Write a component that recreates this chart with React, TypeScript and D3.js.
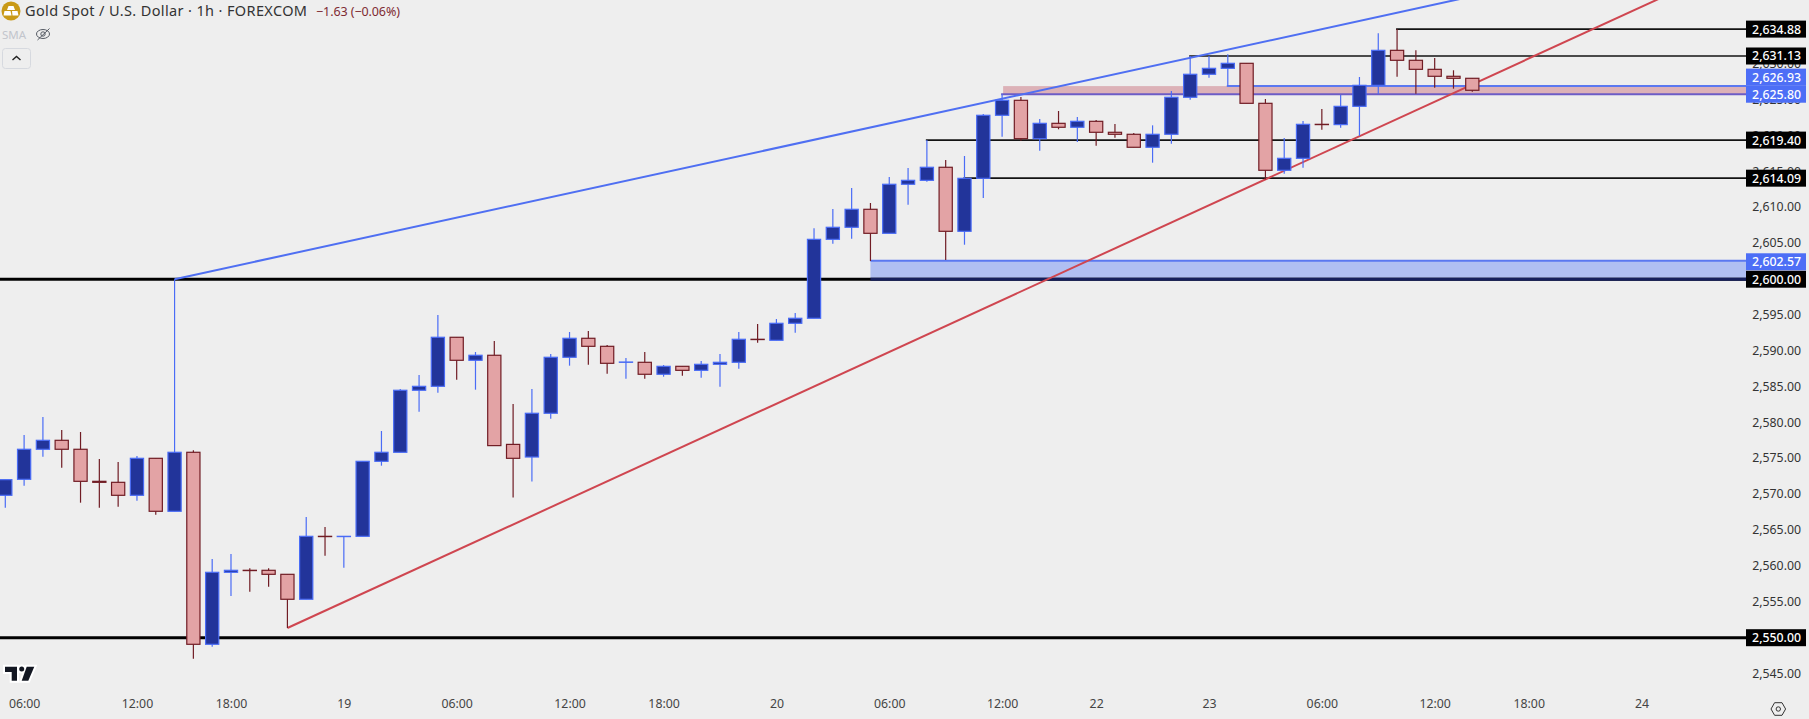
import React, { useEffect, useRef } from "react";
import * as d3 from "d3";

const WIDTH = 1809;
const HEIGHT = 719;

// hourly candles
const opens = [2569.86, 2572.09, 2576.28, 2577.53, 2576.28, 2571.81, 2571.67, 2569.86, 2575.02, 2567.63, 2575.86, 2549.08, 2559.12, 2559.40, 2559.40, 2558.84, 2555.36, 2564.14, 2564.10, 2564.14, 2574.60, 2575.86, 2584.51, 2585.06, 2591.90, 2588.69, 2589.39, 2576.96, 2575.20, 2581.30, 2589.11, 2591.76, 2590.64, 2588.41, 2588.41, 2586.74, 2587.85, 2587.29, 2588.13, 2588.41, 2591.62, 2591.48, 2593.85, 2594.55, 2605.56, 2607.24, 2609.75, 2606.40, 2613.24, 2613.79, 2615.61, 2606.68, 2614.07, 2622.86, 2624.95, 2619.60, 2621.74, 2621.19, 2622.02, 2620.49, 2620.21, 2618.40, 2620.21, 2625.37, 2628.58, 2629.41, 2630.11, 2624.53, 2615.19, 2616.86, 2621.60, 2621.56, 2624.11, 2627.04, 2631.92, 2630.53, 2629.27, 2628.30, 2628.02];
const highs = [2572.04, 2578.27, 2580.78, 2578.97, 2578.69, 2574.92, 2574.50, 2575.34, 2575.02, 2600.00, 2576.14, 2560.98, 2561.67, 2559.68, 2559.68, 2558.84, 2566.83, 2565.44, 2564.14, 2574.60, 2578.83, 2584.69, 2586.64, 2595.01, 2591.90, 2589.85, 2591.38, 2582.59, 2584.69, 2589.57, 2592.64, 2592.78, 2590.82, 2589.01, 2589.85, 2588.03, 2587.85, 2588.59, 2589.57, 2592.64, 2593.75, 2594.45, 2595.29, 2607.10, 2609.79, 2612.72, 2610.63, 2614.25, 2615.51, 2619.41, 2616.62, 2617.18, 2623.04, 2625.83, 2625.41, 2622.34, 2623.46, 2622.62, 2622.20, 2621.65, 2620.39, 2621.46, 2626.25, 2631.13, 2631.13, 2631.37, 2630.11, 2625.13, 2619.69, 2622.06, 2623.74, 2625.69, 2628.20, 2634.30, 2634.88, 2631.92, 2630.85, 2629.14, 2628.02];
const lows = [2568.13, 2571.20, 2575.24, 2573.71, 2568.83, 2568.13, 2568.27, 2569.11, 2567.15, 2567.63, 2547.07, 2548.74, 2555.82, 2556.42, 2557.11, 2551.35, 2555.36, 2561.44, 2559.76, 2564.14, 2573.99, 2575.86, 2581.52, 2584.17, 2585.98, 2584.59, 2576.79, 2569.54, 2571.79, 2580.54, 2587.94, 2588.08, 2586.82, 2586.12, 2586.12, 2586.40, 2586.54, 2586.26, 2585.01, 2587.52, 2591.14, 2591.48, 2592.54, 2594.55, 2604.95, 2605.65, 2602.54, 2606.40, 2610.39, 2613.60, 2602.68, 2604.81, 2611.32, 2619.87, 2619.32, 2617.92, 2620.91, 2619.14, 2618.62, 2619.74, 2618.40, 2616.25, 2618.90, 2625.03, 2628.10, 2626.99, 2624.53, 2613.93, 2614.71, 2615.55, 2620.85, 2621.13, 2620.01, 2625.83, 2628.24, 2625.87, 2626.71, 2626.57, 2626.15];
const closes = [2572.04, 2576.28, 2577.53, 2576.28, 2571.81, 2571.67, 2569.86, 2575.02, 2567.63, 2575.86, 2549.08, 2559.12, 2559.40, 2559.36, 2558.84, 2555.36, 2564.14, 2564.10, 2564.14, 2574.60, 2575.86, 2584.51, 2585.06, 2591.90, 2588.69, 2589.39, 2576.79, 2575.02, 2581.30, 2589.11, 2591.76, 2590.64, 2588.27, 2588.45, 2586.74, 2587.85, 2587.29, 2588.13, 2588.41, 2591.62, 2591.58, 2593.85, 2594.55, 2605.56, 2607.24, 2609.75, 2606.40, 2613.24, 2613.79, 2615.61, 2606.68, 2614.07, 2622.86, 2624.95, 2619.60, 2621.74, 2621.19, 2622.02, 2620.49, 2620.21, 2618.40, 2620.21, 2625.37, 2628.58, 2629.41, 2630.11, 2624.53, 2615.19, 2616.86, 2621.60, 2621.56, 2624.11, 2627.04, 2631.92, 2630.53, 2629.27, 2628.30, 2628.02, 2626.35];

// 2,600 and 2,550 sit fully under their own labels
const priceTicks = [2545, 2555, 2560, 2565, 2570, 2575, 2580, 2585, 2590, 2595, 2605, 2610, 2615, 2620, 2625, 2630];

const timeTickBars = [1, 7, 12, 18, 24, 30, 35, 41, 47, 53, 58, 64, 70, 76, 81, 87];
const timeTickLabels = ["06:00", "12:00", "18:00", "19", "06:00", "12:00", "18:00", "20", "06:00", "12:00", "22", "23", "06:00", "12:00", "18:00", "24"];

// price levels: start bar and price
const thinLevels = [2634.88, 2631.13, 2619.40, 2614.09];
const thinLevelStarts = [74, 63, 49, 51];
const roundLevels = [2600, 2550];

const supportZone = [2602.57, 2600];
const supportZoneStart = 46;
const resistanceZone = [2626.93, 2625.8];
const resistanceZoneStart = 53;
const resistanceTopStart = 65;

// trend lines: [bar, price]
const blueTrend: [number, number][] = [[9, 2600], [80, 2640.6]];
const redTrend: [number, number][] = [[15, 2551.35], [88, 2639.2]];

const titleText = "Gold Spot / U.S. Dollar · 1h · FOREXCOM";
const changeText = "−1.63 (−0.06%)";
const indicatorText = "SMA";

const FONT = "'Noto Sans', sans-serif";
const UP_FILL = "#22349a";
const UP_LINE = "#4a6cf6";
const DOWN_FILL = "#e3a3a5";
const DOWN_LINE = "#701c24";
const AXIS_X = 1746;

export default function App() {
  const ref = useRef<SVGSVGElement>(null);

  useEffect(() => {
    const svg = d3.select(ref.current);
    svg.selectAll("*").remove();

    const x = d3.scaleLinear().domain([0, 78]).range([5.3, 1472.3]);
    const y = d3.scaleLinear().domain([2545, 2640]).range([673.55, -7.6]);

    svg.append("rect").attr("width", WIDTH).attr("height", HEIGHT).attr("fill", "#eeeeee");

    // zones
    svg.append("rect")
      .attr("x", x(supportZoneStart))
      .attr("y", y(supportZone[0]))
      .attr("width", AXIS_X - x(supportZoneStart))
      .attr("height", y(supportZone[1]) - y(supportZone[0]))
      .attr("fill", "#b0bff2");
    svg.append("rect")
      .attr("x", x(resistanceZoneStart) + 1)
      .attr("y", y(resistanceZone[0]))
      .attr("width", AXIS_X - x(resistanceZoneStart) - 1)
      .attr("height", y(resistanceZone[1]) - y(resistanceZone[0]))
      .attr("fill", "#dcb1b7");

    const hLine = (price: number, start: number, color: string, width: number) =>
      svg.append("line")
        .attr("x1", start)
        .attr("x2", AXIS_X)
        .attr("y1", y(price))
        .attr("y2", y(price))
        .attr("stroke", color)
        .attr("stroke-width", width);

    thinLevels.forEach((p, i) => hLine(p, x(thinLevelStarts[i]) - 1, "#131313", 1.6));
    roundLevels.forEach((p) => hLine(p, 0, "#000000", 3));
    hLine(supportZone[0], x(supportZoneStart), "#5b78f0", 2);
    hLine(supportZone[1], x(supportZoneStart), "#161f5c", 3);
    hLine(resistanceZone[0], x(resistanceTopStart) - 1, "#5b78f0", 2);
    hLine(resistanceZone[1], x(resistanceZoneStart) - 1, "#6c5cc6", 2);

    // trend lines
    const trend = d3.line<[number, number]>().x((d) => x(d[0])).y((d) => y(d[1]));
    svg.append("path").attr("d", trend(blueTrend)).attr("fill", "none").attr("stroke", "#4f6ff2").attr("stroke-width", 2);
    svg.append("path").attr("d", trend(redTrend)).attr("fill", "none").attr("stroke", "#cf4650").attr("stroke-width", 2);

    // candles
    const bars = d3.range(opens.length);
    const isUp = (i: number) => closes[i] >= opens[i];

    svg.append("g").selectAll("line")
      .data(bars)
      .join("line")
      .attr("x1", (i) => x(i))
      .attr("x2", (i) => x(i))
      .attr("y1", (i) => y(highs[i]))
      .attr("y2", (i) => y(lows[i]))
      .attr("stroke", (i) => (isUp(i) ? UP_LINE : DOWN_LINE))
      .attr("stroke-width", 1.2);

    svg.append("g").selectAll("rect")
      .data(bars)
      .join("rect")
      .attr("x", (i) => x(i) - 6.6)
      .attr("width", 13.2)
      .attr("y", (i) => y(Math.max(opens[i], closes[i])))
      .attr("height", (i) => Math.abs(y(opens[i]) - y(closes[i])))
      .attr("fill", (i) => (isUp(i) ? UP_FILL : DOWN_FILL))
      .attr("stroke", (i) => (isUp(i) ? UP_LINE : DOWN_LINE))
      .attr("stroke-width", 1.2);

    // price axis
    const yAxis = svg.append("g")
      .attr("transform", `translate(${AXIS_X},0)`)
      .call(d3.axisRight(y).tickValues(priceTicks).tickSize(0).tickFormat((d) => d3.format(",.2f")(d as number)));
    yAxis.select(".domain").remove();
    yAxis.selectAll("text")
      .attr("x", 55)
      .attr("dy", "0.28em")
      .attr("text-anchor", "end")
      .attr("font-family", FONT)
      .attr("font-size", 12.3)
      .attr("fill", "#333333");

    // time axis
    const xAxis = svg.append("g")
      .attr("transform", "translate(0,696)")
      .call(d3.axisBottom(x).tickValues(timeTickBars).tickSize(0).tickFormat((_, i) => timeTickLabels[i]));
    xAxis.select(".domain").remove();
    xAxis.selectAll("text")
      .attr("y", 0)
      .attr("dy", "1em")
      .attr("font-family", FONT)
      .attr("font-size", 12.3)
      .attr("fill", "#444444");

    // price labels, the two zone labels are pushed apart by the axis
    const priceLabel = (price: number, center: number, color: string) => {
      svg.append("rect")
        .attr("x", AXIS_X)
        .attr("y", center - 8.5)
        .attr("width", 60)
        .attr("height", 17)
        .attr("fill", color);
      svg.append("text")
        .attr("x", 1801)
        .attr("y", center)
        .attr("dy", "0.36em")
        .attr("text-anchor", "end")
        .attr("font-family", FONT)
        .attr("font-size", 12.3)
        .attr("font-weight", 500)
        .attr("fill", "#ffffff")
        .text(d3.format(",.2f")(price));
    };
    thinLevels.forEach((p) => priceLabel(p, y(p), "#000000"));
    roundLevels.forEach((p) => priceLabel(p, y(p), "#000000"));
    priceLabel(supportZone[0], y(supportZone[0]) + 1, "#4d6ef6");
    svg.append("rect").attr("x", AXIS_X).attr("y", 85.5).attr("width", 60).attr("height", 1).attr("fill", "#4d6ef6");
    priceLabel(resistanceZone[0], y(resistanceZone[0]) - 9, "#4d6ef6");
    priceLabel(resistanceZone[1], y(resistanceZone[1]), "#4d6ef6");

    // header
    svg.append("circle").attr("cx", 11).attr("cy", 11).attr("r", 9.5).attr("fill", "#c99a17");
    svg.append("path").attr("d", "M8.5 6H13.5L15 10H7ZM4.5 11H10.5L11.5 15.5H3.5ZM12 11H17.5L18.5 15.5H12.5Z").attr("fill", "#ffffff");
    svg.append("text")
      .attr("x", 25)
      .attr("y", 16)
      .attr("font-family", FONT)
      .attr("font-size", 14.5)
      .attr("textLength", 282)
      .attr("fill", "#333333")
      .text(titleText);
    svg.append("text")
      .attr("x", 316)
      .attr("y", 16)
      .attr("font-family", FONT)
      .attr("font-size", 12.5)
      .attr("textLength", 84)
      .attr("fill", "#7f2b33")
      .text(changeText);
    svg.append("text")
      .attr("x", 2)
      .attr("y", 39)
      .attr("font-family", FONT)
      .attr("font-size", 11.5)
      .attr("fill", "#c2c5cc")
      .text(indicatorText);

    // hidden indicator eye
    const eye = svg.append("g").attr("fill", "none").attr("stroke", "#555a63").attr("stroke-width", 1);
    eye.append("ellipse").attr("cx", 43).attr("cy", 34).attr("rx", 6.5).attr("ry", 4.5);
    eye.append("circle").attr("cx", 43).attr("cy", 34).attr("r", 2.2);
    eye.append("line").attr("x1", 37.5).attr("y1", 40).attr("x2", 49.5).attr("y2", 28.5);

    // collapse button
    svg.append("rect")
      .attr("x", 2.5)
      .attr("y", 48.5)
      .attr("width", 28)
      .attr("height", 20)
      .attr("rx", 3)
      .attr("fill", "none")
      .attr("stroke", "#d6d9df");
    svg.append("path").attr("d", "M12.5 60L16.5 56.5L20.5 60").attr("fill", "none").attr("stroke", "#222222").attr("stroke-width", 1.4);

    // logo
    const logoShapes = ["M5 666.7H17V680.7H11.7V672H5Z", "M26.7 666.7H34.3L28.3 680.7H21.7Z"];
    logoShapes.forEach((d) =>
      svg.append("path").attr("d", d).attr("fill", "#ffffff").attr("stroke", "#ffffff").attr("stroke-width", 4)
    );
    svg.append("circle").attr("cx", 21.7).attr("cy", 669).attr("r", 4.5).attr("fill", "#ffffff");
    logoShapes.forEach((d) => svg.append("path").attr("d", d).attr("fill", "#131722"));
    svg.append("circle").attr("cx", 21.7).attr("cy", 669).attr("r", 2.5).attr("fill", "#131722");

    // settings gear
    const gear = svg.append("g").attr("fill", "none").attr("stroke", "#333333").attr("stroke-width", 1);
    gear.append("path").attr("d", "M1771 709L1774.6 702.7H1782L1785.6 709L1782 715.3H1774.6Z");
    gear.append("circle").attr("cx", 1778.3).attr("cy", 709).attr("r", 2.2);
  }, []);

  return (
    <svg
      ref={ref}
      width={WIDTH}
      height={HEIGHT}
      style={{ position: "absolute", left: 0, top: 0, display: "block" }}
    />
  );
}
